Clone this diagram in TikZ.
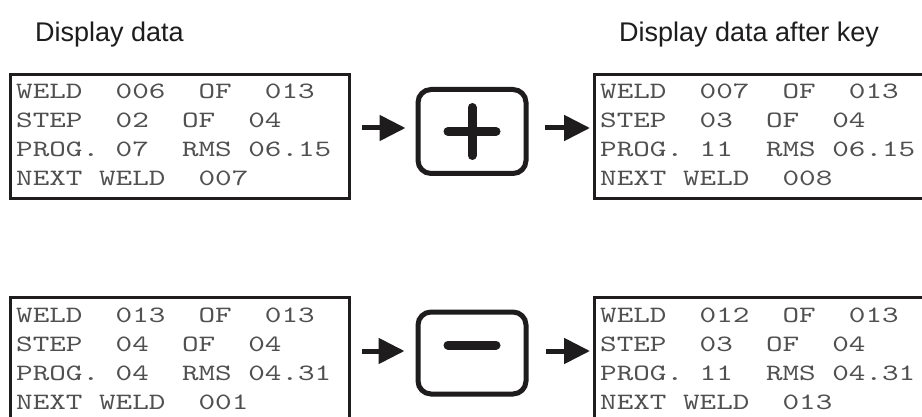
\documentclass[tikz,border=0pt]{standalone}
\usepackage{fontspec}
\setmainfont{Liberation Sans}
\newfontfamily\lcdfont{lmmono10-regular.otf}[FakeStretch=1.35]
\usetikzlibrary{arrows.meta,calc}
\definecolor{lcdtext}{HTML}{505050}
\definecolor{ink}{HTML}{1E1C1C}
\tikzset{
  dispbox/.style={draw=ink, line width=3.4pt, fill=white, rectangle,
    minimum width=339pt, minimum height=124pt, inner sep=0pt, anchor=north west},
  keybox/.style={draw=ink, line width=5pt, fill=white, rectangle, rounded corners=13pt,
    minimum width=108pt, minimum height=84pt, inner sep=0pt},
  lcdline/.style={anchor=base west, inner sep=0pt, text=lcdtext,
    font=\lcdfont\fontsize{23.4}{29}\selectfont},
  heading/.style={anchor=base west, inner sep=0pt, text=ink,
    font=\fontsize{27}{32}\selectfont},
  arr/.style={draw=ink, line width=5pt, -{Triangle[length=26pt,width=25pt]}},
  keysym/.style={draw=ink, line width=9pt, line cap=round}
}
\newcommand\lcdscreen[5]{%
  \node[lcdline] (#1l1) at ($(#1.north west)+(7,26)$) {#2};
  \node[lcdline] (#1l2) at ($(#1.north west)+(7,55)$) {#3};
  \node[lcdline] (#1l3) at ($(#1.north west)+(7,84)$) {#4};
  \node[lcdline] (#1l4) at ($(#1.north west)+(7,113)$) {#5};
}
\begin{document}
\begin{tikzpicture}[x=1pt,y=-1pt]
\useasboundingbox (0,0) rectangle (922,417);
\clip (0,0) rectangle (922,417);
\fill[white] (0,0) rectangle (922,417);

\node[heading] (h1) at (35,42) {Display data};
\node[heading] (h2) at (619,42) {Display data after key};

% top row
\node[dispbox] (A) at (9,73) {};
\node[dispbox, minimum width=345pt] (B) at (593,73) {};
\node[keybox] (P) at (472,131.5) {};
\lcdscreen{A}{WELD~~006~~OF~~013}{STEP~~02~~OF~~04}{PROG.~07~~RMS~06.15}{NEXT~WELD~~007}
\lcdscreen{B}{WELD~~007~~OF~~013}{STEP~~03~~OF~~04}{PROG.~11~~RMS~06.15}{NEXT~WELD~~008}
\draw[keysym] ($(P.center)+(-24,0)$) -- ($(P.center)+(24,0)$);
\draw[keysym] ($(P.center)+(0,-24)$) -- ($(P.center)+(0,24)$);
\draw[arr, shorten <=11pt, shorten >=10pt] (A.east |- 0,128) -- (P.west |- 0,128);
\draw[arr, shorten <=16pt, shorten >=3pt] (P.east |- 0,128) -- (B.west |- 0,128);

% bottom row
\node[dispbox] (C) at (9,296) {};
\node[dispbox, minimum width=345pt] (D) at (593,296) {};
\node[keybox, minimum height=82pt] (M) at (472,353) {};
\lcdscreen{C}{WELD~~013~~OF~~013}{STEP~~04~~OF~~04}{PROG.~04~~RMS~04.31}{NEXT~WELD~~001}
\lcdscreen{D}{WELD~~012~~OF~~013}{STEP~~03~~OF~~04}{PROG.~11~~RMS~04.31}{NEXT~WELD~~013}
\draw[keysym] ($(M.center)+(-24,-8)$) -- ($(M.center)+(24,-8)$);
\draw[arr, shorten <=11pt, shorten >=11pt] (C.east |- 0,351) -- (M.west |- 0,351);
\draw[arr, shorten <=17pt, shorten >=3pt] (M.east |- 0,351) -- (D.west |- 0,351);
\end{tikzpicture}
\end{document}
